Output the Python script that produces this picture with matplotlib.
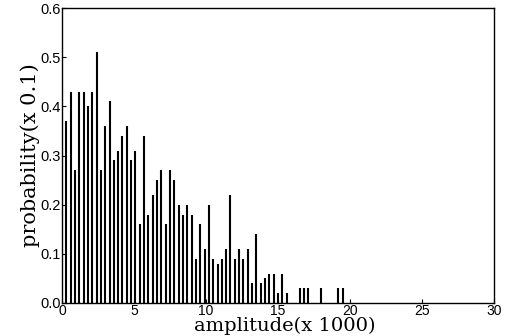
import matplotlib
matplotlib.use("Agg")
import matplotlib.pyplot as plt
import numpy as np

# amplitude bins (x 1000), spacing 0.3
bin_index = list(range(1, 66))
probability = [
    0.37, 0.43, 0.27, 0.43, 0.43, 0.40, 0.43, 0.51, 0.27, 0.36,
    0.41, 0.29, 0.31, 0.34, 0.36, 0.29, 0.31, 0.16, 0.34, 0.18,
    0.22, 0.25, 0.27, 0.16, 0.27, 0.25, 0.20, 0.18, 0.20, 0.18,
    0.09, 0.16, 0.11, 0.20, 0.09, 0.08, 0.09, 0.11, 0.22, 0.09,
    0.11, 0.09, 0.11, 0.04, 0.14, 0.04, 0.05, 0.06, 0.06, 0.02,
    0.06, 0.02, 0.00, 0.00, 0.03, 0.03, 0.03, 0.00, 0.00, 0.03,
    0.00, 0.00, 0.00, 0.03, 0.03,
]
bin_width = 0.3
x_ticks = [0, 5, 10, 15, 20, 25, 30]
y_ticks = [0.0, 0.1, 0.2, 0.3, 0.4, 0.5, 0.6]

amplitude = [bin_width * k for k in bin_index]

fig = plt.figure(figsize=(5.11, 3.36), dpi=100)
# axes: left 62 px, right 494 px, top 8 px, baseline 303 px
ax = fig.add_axes([62 / 511, (336 - 303) / 336, (494 - 62) / 511, (303 - 8) / 336])

ax.vlines(amplitude, 0, probability, color="black", linewidth=1.5)

ax.set_xlim(0, 30)
ax.set_ylim(0, 0.6)
ax.set_xticks(x_ticks)
ax.set_xticklabels([str(t) for t in x_ticks], family="Liberation Sans", fontsize=10)
ax.set_yticks(y_ticks)
ax.set_yticklabels([f"{t:.1f}" for t in y_ticks], family="Liberation Sans", fontsize=10.5)
ax.tick_params(direction="in", length=3, width=0.8, pad=1)

for s in ax.spines.values():
    s.set_linewidth(1.0)

xl = ax.set_xlabel("amplitude(x 1000)", family="DejaVu Serif", fontsize=14)
xl.set_verticalalignment("bottom")
ax.xaxis.set_label_coords(((180 + 390) / 2) / 511, 0.003, transform=fig.transFigure)
ax.set_ylabel("probability(x 0.1)", family="DejaVu Serif", fontsize=15, labelpad=0)

fig.savefig("out.png", dpi=100)
